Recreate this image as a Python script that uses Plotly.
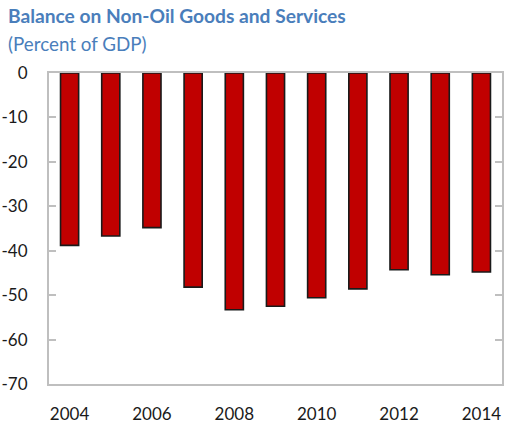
import plotly.graph_objects as go

years = [2004, 2005, 2006, 2007, 2008, 2009, 2010, 2011, 2012, 2013, 2014]
balance = [-38.8, -36.7, -34.8, -48.2, -53.3, -52.5, -50.6, -48.6, -44.3, -45.4, -44.8]
tick_years = ["2004", "2006", "2008", "2010", "2012", "2014"]
y_ticks = [0, -10, -20, -30, -40, -50, -60, -70]

title_text = "Balance on Non-Oil Goods and Services"
subtitle_text = "(Percent of GDP)"

blue = "#4A7EBB"
axis_gray = "#BFBFBF"
font_family = "Lato, 'Open Sans', sans-serif"

fig = go.Figure()
fig.add_trace(go.Bar(
    x=[str(y) for y in years],
    y=balance,
    width=0.44,
    marker=dict(color="#C00000", line=dict(color="#1a1a1a", width=1.6)),
))

fig.update_layout(
    width=505, height=428,
    margin=dict(l=49, r=1, t=73, b=44),
    paper_bgcolor="white", plot_bgcolor="white",
    showlegend=False,
    font=dict(family=font_family, size=17, color="#1a1a1a"),
    annotations=[
        dict(text="<b>" + title_text + "</b>", x=-49/455, y=1, xref="paper", yref="paper",
             xanchor="left", yanchor="middle", showarrow=False, xshift=6, yshift=73-15,
             font=dict(family=font_family, size=19.2, color=blue)),
        dict(text=subtitle_text, x=-49/455, y=1, xref="paper", yref="paper",
             xanchor="left", yanchor="middle", showarrow=False, xshift=6, yshift=73-43,
             font=dict(family=font_family, size=18.8, color=blue)),
    ],
)

fig.update_xaxes(
    type="category",
    categoryorder="array", categoryarray=[str(y) for y in years],
    tickmode="array", tickvals=tick_years, ticktext=tick_years,
    range=[-0.5, 10.5],
    showline=True, linecolor=axis_gray, linewidth=2, mirror=True,
    ticks="", showgrid=False, zeroline=False,
    ticklabelstandoff=14,
    tickfont=dict(size=17),
)
fig.update_yaxes(
    range=[-70, 0],
    tickmode="array", tickvals=y_ticks, ticktext=[str(v) for v in y_ticks],
    showline=True, linecolor=axis_gray, linewidth=2, mirror="ticks",
    ticks="inside", ticklen=7, tickcolor=axis_gray, tickwidth=2,
    showgrid=False, zeroline=False,
    ticklabelstandoff=16,
    tickfont=dict(size=17),
)

fig.write_html("out.html")
